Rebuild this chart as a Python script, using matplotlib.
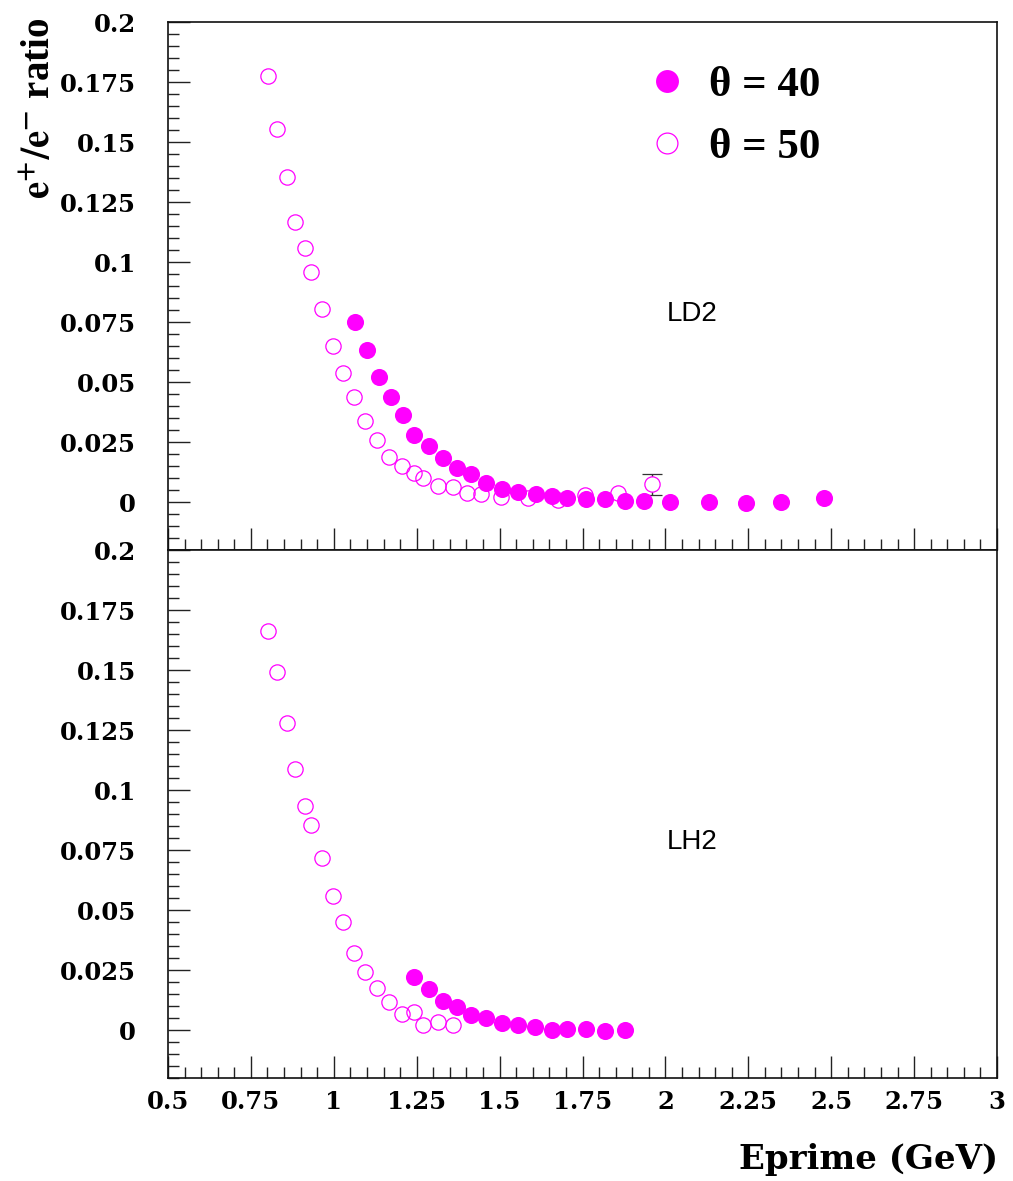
import matplotlib
matplotlib.use("Agg")
import matplotlib.pyplot as plt
from matplotlib.ticker import MultipleLocator, FuncFormatter
from matplotlib.lines import Line2D
import numpy as np

# ---------------- data ----------------
# LD2 panel
x40_ld2 = [1.064, 1.101, 1.137, 1.172, 1.210, 1.242, 1.286, 1.328, 1.371, 1.413, 1.459, 1.507,
           1.556, 1.609, 1.657, 1.702, 1.760, 1.818, 1.877, 1.935, 2.014, 2.130, 2.243, 2.348, 2.478]
y40_ld2 = [0.0751, 0.0632, 0.0522, 0.0439, 0.0364, 0.0279, 0.0235, 0.0185, 0.0142, 0.0115, 0.0080, 0.0055,
           0.0043, 0.0035, 0.0025, 0.0017, 0.0013, 0.0014, 0.0004, 0.0004, 0.0000, 0.0000, -0.0003, 0.0000, 0.0017]

x50_ld2 = [0.802, 0.830, 0.858, 0.884, 0.912, 0.932, 0.963, 0.998, 1.029, 1.060, 1.093, 1.129, 1.167,
           1.206, 1.242, 1.270, 1.314, 1.359, 1.401, 1.445, 1.503, 1.587, 1.676, 1.757, 1.857, 1.959]
y50_ld2 = [0.1776, 0.1554, 0.1354, 0.1167, 0.1060, 0.0960, 0.0803, 0.0651, 0.0537, 0.0439, 0.0339, 0.0257, 0.0189,
           0.0151, 0.0122, 0.0100, 0.0068, 0.0061, 0.0039, 0.0032, 0.0020, 0.0015, 0.0008, 0.0029, 0.0037, 0.0074]
err50_ld2_last = 0.0044   # error bar on the last theta=50 LD2 point

# LH2 panel
x40_lh2 = [1.242, 1.286, 1.328, 1.371, 1.413, 1.459, 1.507, 1.556, 1.607, 1.659, 1.702, 1.761, 1.819, 1.877]
y40_lh2 = [0.0222, 0.0172, 0.0122, 0.0097, 0.0064, 0.0050, 0.0028, 0.0021, 0.0011, 0.0000, 0.0004, 0.0003, -0.0003, 0.0000]

x50_lh2 = [0.802, 0.830, 0.858, 0.884, 0.912, 0.932, 0.964, 0.998, 1.029, 1.060, 1.093, 1.129, 1.167,
           1.206, 1.242, 1.270, 1.314, 1.359]
y50_lh2 = [0.1661, 0.1493, 0.1278, 0.1086, 0.0935, 0.0853, 0.0718, 0.0560, 0.0450, 0.0321, 0.0240, 0.0176, 0.0118,
           0.0067, 0.0074, 0.0022, 0.0035, 0.0022]

panel_labels = ["LD2", "LH2"]
legend_labels = ["\u03b8 = 40", "\u03b8 = 50"]
x_label = "Eprime (GeV)"
y_label = r"$\mathbf{e^{+}/e^{-}}$ ratio"

# ---------------- style ----------------
MAG = "#ff00ff"
SERIF = ["Liberation Serif", "DejaVu Serif"]
TICKFONT = ["DejaVu Serif"]
W, H = 1013, 1181
fig = plt.figure(figsize=(W / 100, H / 100), dpi=100)

left = 168 / W
right = 997 / W
ph = 528 / H
ax_top = fig.add_axes([left, 1 - 550 / H, right - left, ph])
ax_bot = fig.add_axes([left, 1 - 1078 / H, right - left, ph])


def fmt(v, pos):
    return "%g" % v


for ax in (ax_top, ax_bot):
    ax.set_xlim(0.5, 3.0)
    ax.set_ylim(-0.02, 0.2)
    ax.xaxis.set_major_locator(MultipleLocator(0.25))
    ax.xaxis.set_minor_locator(MultipleLocator(0.05))
    ax.yaxis.set_major_locator(MultipleLocator(0.025))
    ax.yaxis.set_minor_locator(MultipleLocator(0.005))
    ax.set_yticks(np.arange(0, 0.2001, 0.025))
    ax.tick_params(which="both", direction="in", top=False, right=False, color="#222222", width=1.0)
    ax.tick_params(which="major", length=15.8)
    ax.tick_params(which="minor", length=7.9)
    ax.tick_params(axis="y", which="major", pad=23)
    ax.tick_params(axis="x", which="major", pad=8.5)
    for sp in ax.spines.values():
        sp.set_linewidth(1.2)
        sp.set_color("#111111")
    ax.yaxis.set_major_formatter(FuncFormatter(fmt))
    ax.xaxis.set_major_formatter(FuncFormatter(fmt))

for lab in ax_top.get_yticklabels() + ax_bot.get_yticklabels() + ax_bot.get_xticklabels():
    lab.set_fontfamily(TICKFONT)
    lab.set_fontweight("bold")
    lab.set_fontsize(17.5)
ax_top.tick_params(axis="x", labelbottom=False)

# ---- LD2 ----
ax_top.plot(x50_ld2[:-1], y50_ld2[:-1], "o", ms=11, mfc="none", mec=MAG, mew=0.9, zorder=3)
ax_top.errorbar(x50_ld2[-1:], y50_ld2[-1:], yerr=[err50_ld2_last], fmt="o", ms=11, mfc="white",
                mec=MAG, mew=0.9, ecolor="#333333", elinewidth=1.0, capsize=7, capthick=1.0, zorder=3)
ax_top.plot(x40_ld2, y40_ld2, "o", ms=12.3, mfc=MAG, mec=MAG, mew=0, zorder=4)

# ---- LH2 ----
ax_bot.plot(x50_lh2, y50_lh2, "o", ms=11, mfc="none", mec=MAG, mew=0.9, zorder=3)
ax_bot.plot(x40_lh2, y40_lh2, "o", ms=12.3, mfc=MAG, mec=MAG, mew=0, zorder=4)

# panel labels
for ax, lbl in ((ax_top, panel_labels[0]), (ax_bot, panel_labels[1])):
    ax.text(0.602, 0.447, lbl, transform=ax.transAxes, fontsize=20,
            family=["Liberation Sans", "DejaVu Sans"], ha="left", va="center")

# legend
hl40 = Line2D([], [], ls="none", marker="o", ms=16.5, mfc=MAG, mec=MAG, mew=0)
hl50 = Line2D([], [], ls="none", marker="o", ms=15, mfc="none", mec=MAG, mew=0.9)
leg = ax_top.legend([hl40, hl50], legend_labels, loc="upper left",
                    bbox_to_anchor=(645 / W, 1 - 66 / H), bbox_transform=fig.transFigure,
                    frameon=False, borderpad=0, borderaxespad=0, handlelength=1.0,
                    handletextpad=0.48, labelspacing=0.52,
                    prop={"family": SERIF, "weight": "bold", "size": 31})

# axis labels
fig.text(998 / W, 1 - 1160 / H, x_label, ha="right", va="center", fontsize=24.5,
         family=TICKFONT, fontweight="bold")
fig.text(40 / W, 1 - 18 / H, y_label, ha="center", va="top", rotation=90, fontsize=28,
         family=SERIF, fontweight="bold", math_fontfamily="stix")

fig.savefig("out.png", dpi=100)
